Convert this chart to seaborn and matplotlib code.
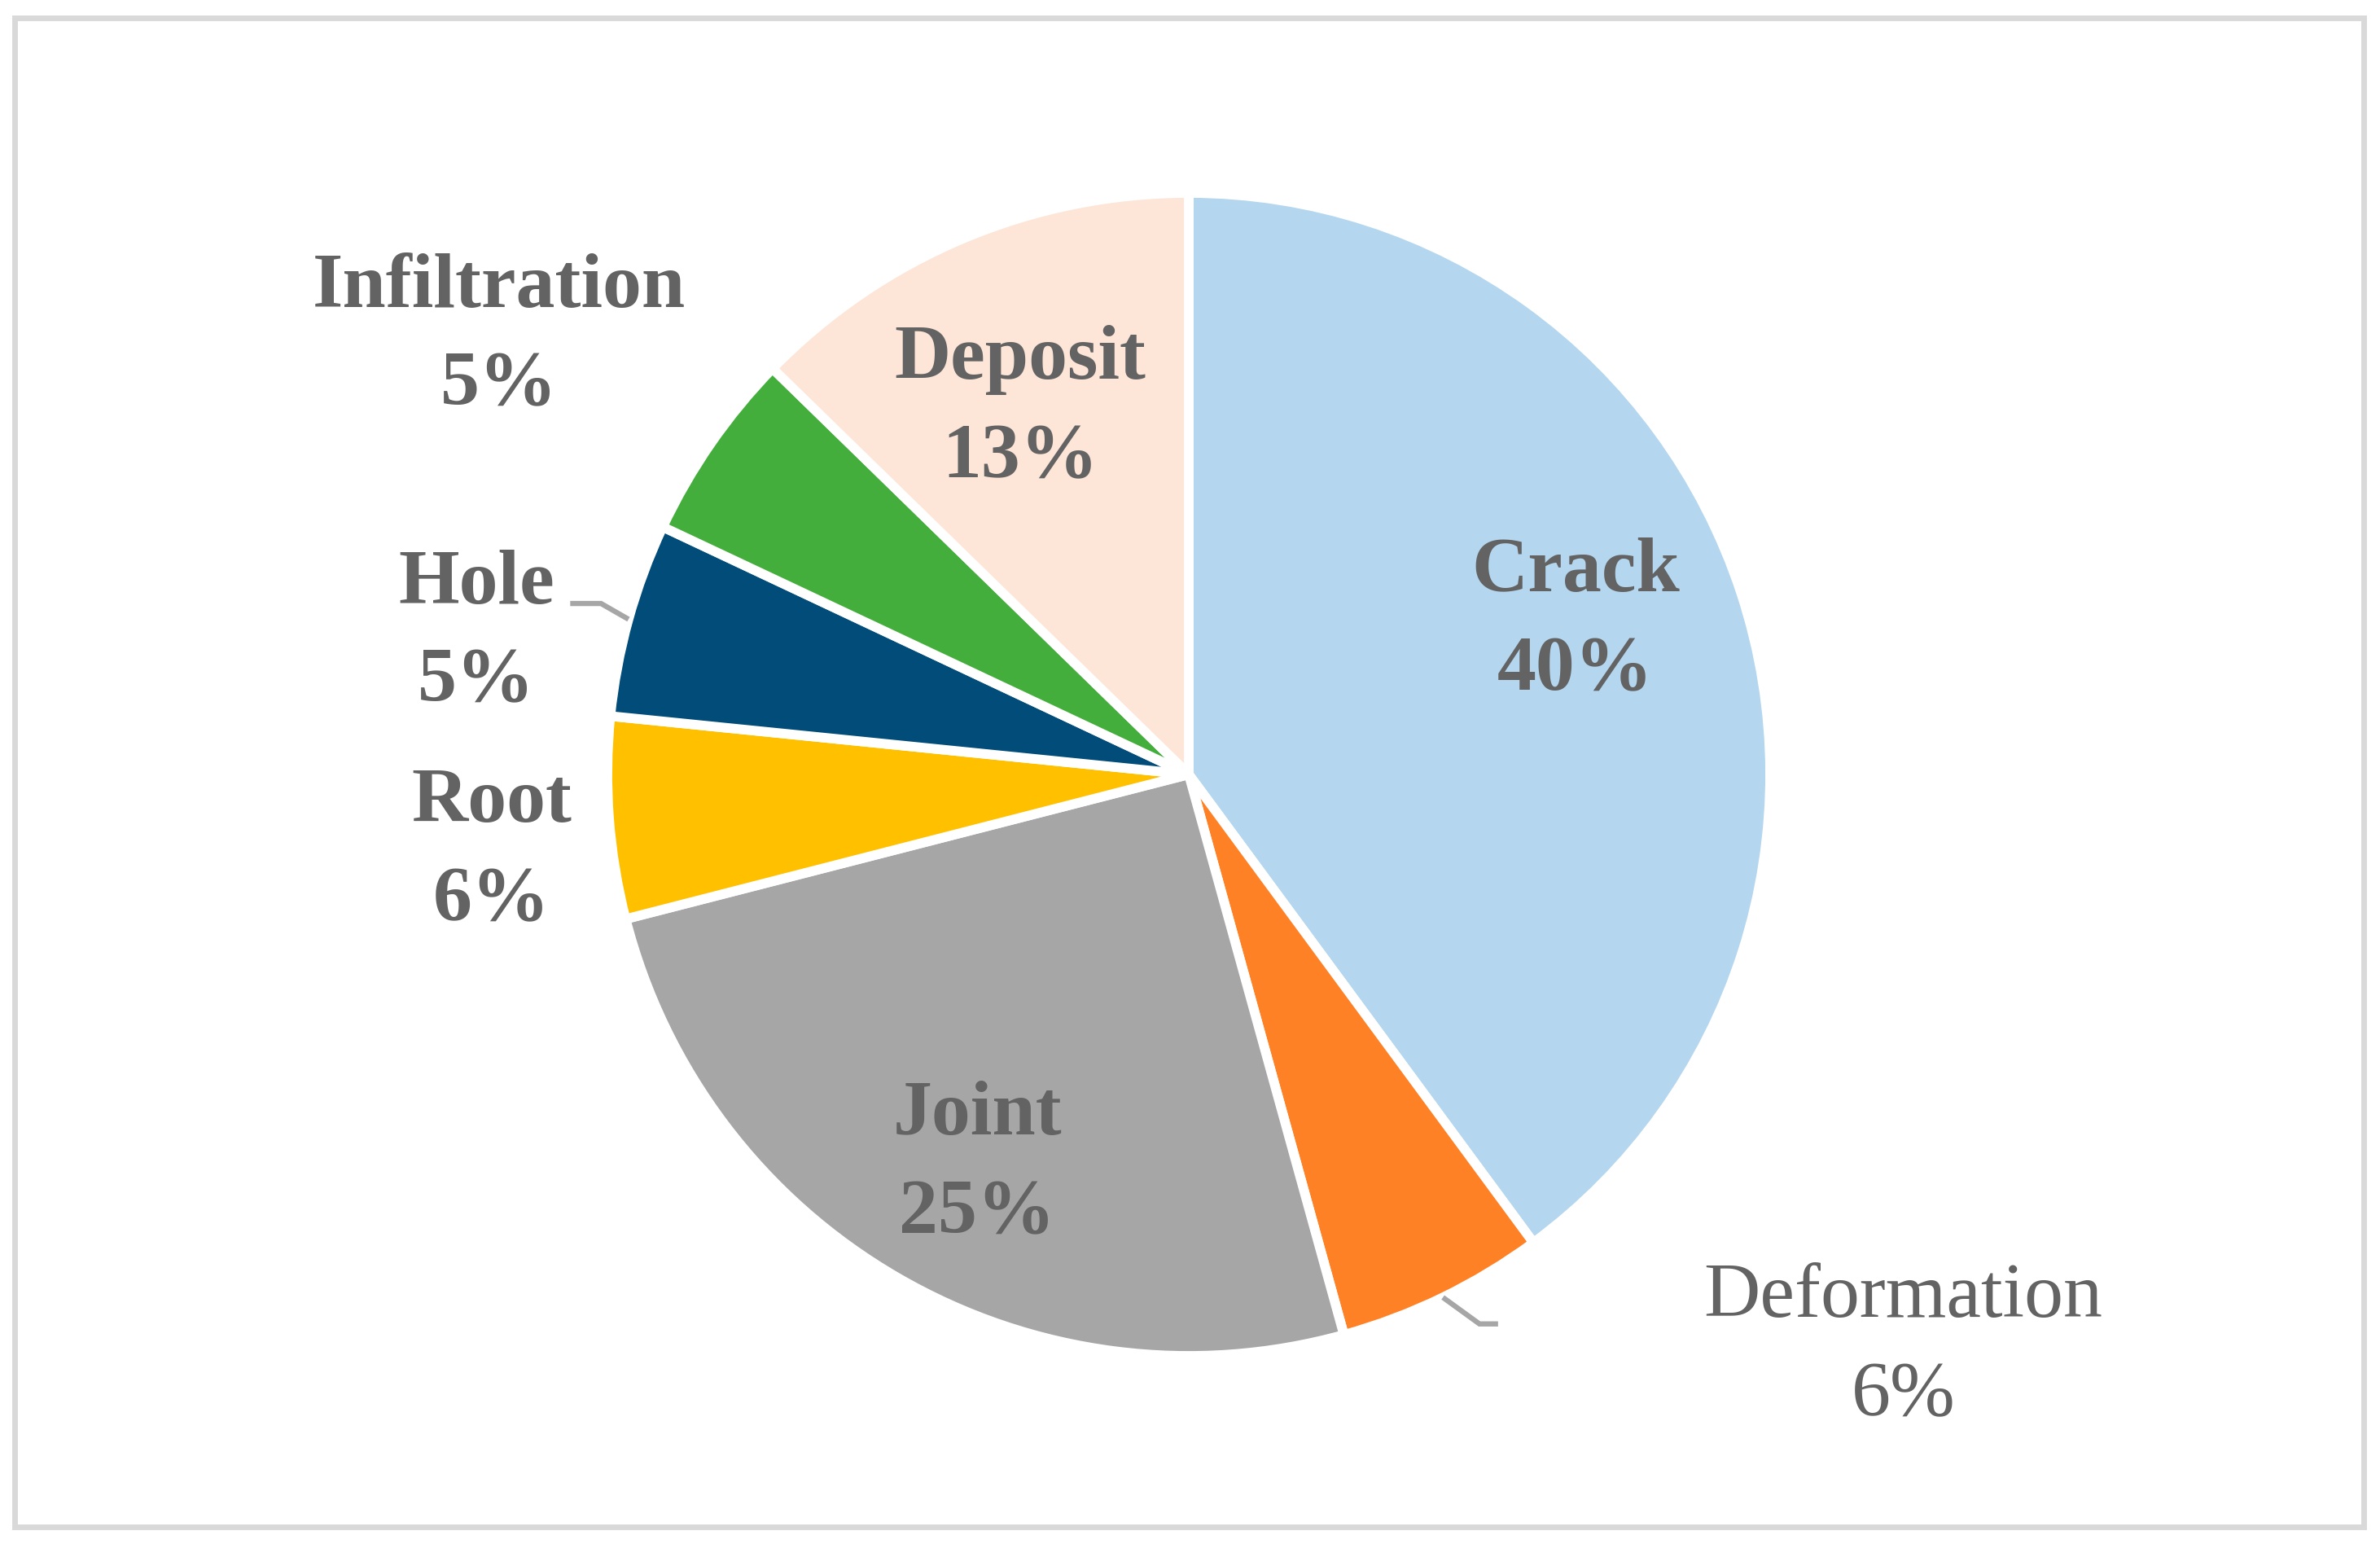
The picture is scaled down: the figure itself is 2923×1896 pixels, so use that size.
import matplotlib
matplotlib.use("Agg")
import matplotlib.pyplot as plt
from matplotlib.patches import Rectangle
import numpy as np
import seaborn as sns

# ---- data ----
categories = ["Crack", "Deformation", "Joint", "Root", "Hole", "Infiltration", "Deposit"]
shares = [39.9, 5.8, 25.3, 5.6, 5.4, 5.3, 12.7]
colors = ["#B4D7EF", "#FF8126", "#A6A6A6", "#FFC000", "#014C78", "#44AE3C", "#FDE5D7"]

# ---- layout (label centres in pie-radius units) ----
label_pos = {
    "Crack": (0.665, 0.262),
    "Deformation": (1.229, -0.985),
    "Joint": (-0.364, -0.672),
    "Root": (-1.199, -0.134),
    "Hole": (-1.225, 0.242),
    "Infiltration": (-1.186, 0.752),
    "Deposit": (-0.290, 0.628),
}
# leader lines: (elbow, end) for labels outside the pie
leaders = {
    "Hole": ((-1.011, 0.294), (-1.064, 0.294)),
    "Deformation": ((0.500, -0.945), (0.532, -0.945)),
}

sns.set_theme(style="white")
plt.rcParams["font.family"] = ["Liberation Serif", "DejaVu Serif"]

W, H = 2923, 1896
fig = plt.figure(figsize=(W / 100, H / 100), dpi=100)
fig.patch.set_facecolor("white")
ax = fig.add_axes([0, 0, 1, 1])

wedges, _ = ax.pie(
    shares,
    colors=colors,
    startangle=90,
    counterclock=False,
    wedgeprops=dict(edgecolor="white", linewidth=8.5, joinstyle="round"),
)

cx, cy, R = 1460.0, 951.0, 714.0
ax.set_xlim(-cx / R, (W - cx) / R)
ax.set_ylim(-(H - cy) / R, cy / R)
ax.set_aspect("equal")
ax.axis("off")

text_color = "#636363"
total = sum(shares)
for name, val, w in zip(categories, shares, wedges):
    x, y = label_pos[name]
    weight = "normal" if name == "Deformation" else "bold"
    ax.text(x, y, f"{name}\n{round(val / total * 100)}%", ha="center", va="center",
            fontsize=69, fontweight=weight, color=text_color, linespacing=1.53)
    if name in leaders:
        mid = np.deg2rad((w.theta1 + w.theta2) / 2)
        sx, sy = np.cos(mid) * 1.0, np.sin(mid) * 1.0
        (ex, ey), (tx, ty) = leaders[name]
        ax.plot([sx, ex, tx], [sy, ey, ty], color="#A6A6A6", lw=4.6,
                solid_capstyle="butt", solid_joinstyle="miter")

# outer border
fig.patches.append(Rectangle((17.5 / W, (H - 1874.5) / H), (2902.5 - 17.5) / W, (1874.5 - 21.5) / H,
                             transform=fig.transFigure, fill=False, edgecolor="#D9D9D9", linewidth=5))

fig.savefig("out.png", dpi=100, facecolor="white")
